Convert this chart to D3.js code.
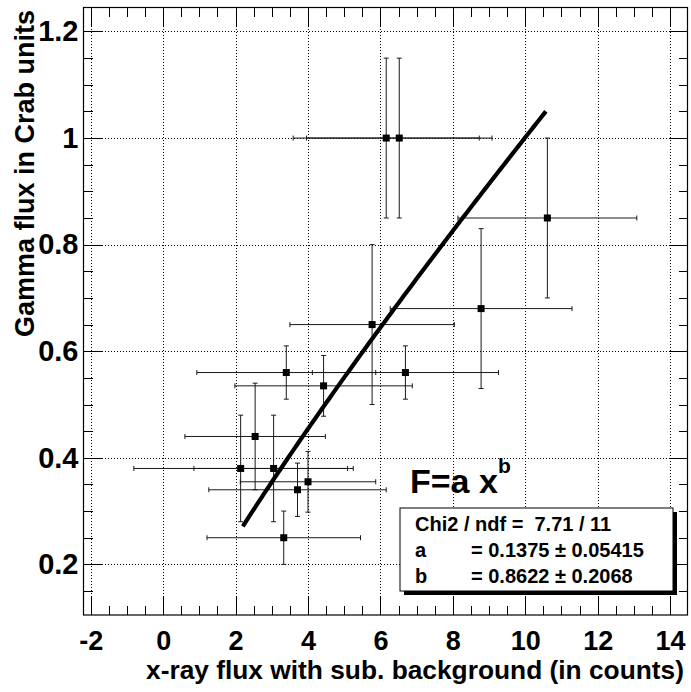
<!DOCTYPE html>
<html>
<head>
<meta charset="utf-8">
<script src="https://cdn.jsdelivr.net/npm/d3@7"></script>
<style>
  html, body { margin: 0; padding: 0; background: #fff; }
  svg { display: block; }
  text { font-family: "Liberation Sans", Arial, Helvetica, sans-serif; font-weight: bold; fill: #000; }
</style>
</head>
<body>
<svg id="chart" width="691" height="692"></svg>
<script>
// Measured points: x-ray flux (counts, background subtracted) vs gamma flux (Crab units)
const xFlux    = [6.16, 6.52, 10.61, 8.78, 5.77, 3.40, 6.69, 4.43, 2.54, 2.14, 3.05, 4.00, 3.71, 3.33];
const xFluxErr = [2.57, 2.56, 2.47, 2.51, 2.27, 2.47, 2.57, 2.45, 1.94, 2.95, 2.20, 1.87, 2.45, 2.12];
const gFlux    = [1.00, 1.00, 0.85, 0.68, 0.65, 0.56, 0.56, 0.535, 0.44, 0.38, 0.38, 0.355, 0.34, 0.25];
const gFluxErr = [0.15, 0.15, 0.15, 0.15, 0.15, 0.05, 0.05, 0.057, 0.10, 0.10, 0.10, 0.057, 0.05, 0.05];

// Power-law fit F = a x^b
const fitA = 0.1375, fitAErr = 0.05415;
const fitB = 0.8622, fitBErr = 0.2068;
const chi2 = 7.71, ndf = 11;
const fitRange = [2.2, 10.57];

// Axis ranges and ticks
const xDomain = [-2.2, 14.48];
const yDomain = [0.105, 1.245];
const xMajor = [-2, 0, 2, 4, 6, 8, 10, 12, 14];
const yMajor = [0.2, 0.4, 0.6, 0.8, 1.0, 1.2];
const xMinor = d3.range(-2, 14.49, 0.5);
const yMinor = d3.range(0.15, 1.246, 0.05);

const xTitle = "x-ray flux with sub. background (in counts)";
const yTitle = "Gamma flux in Crab units";

const svg = d3.select("#chart");
const frame = { left: 83.5, right: 687.5, top: 7.5, bottom: 615 };

const x = d3.scaleLinear().domain(xDomain).range([frame.left, frame.right]);
const y = d3.scaleLinear().domain(yDomain).range([frame.bottom, frame.top]);

// dotted grid at major ticks
const grid = svg.append("g").attr("stroke", "#000").attr("stroke-width", 1)
  .attr("stroke-dasharray", "1,2").attr("shape-rendering", "crispEdges");
grid.selectAll("line.gx").data(xMajor).join("line")
  .attr("x1", d => Math.round(x(d)) + 0.5).attr("x2", d => Math.round(x(d)) + 0.5)
  .attr("y1", frame.top).attr("y2", frame.bottom);
grid.selectAll("line.gy").data(yMajor).join("line")
  .attr("y1", d => Math.round(y(d)) + 0.5).attr("y2", d => Math.round(y(d)) + 0.5)
  .attr("x1", frame.left).attr("x2", frame.right);

// axes: major and minor ticks drawn inward on all four sides
const majorLen = 18, minorLen = 9;
function styleAxis(g) {
  g.select(".domain").remove();
  g.selectAll("line").attr("stroke", "#000").attr("shape-rendering", "crispEdges");
}
// plain ASCII hyphen for negative numbers
const fmtX = d => String(d);
const fmtY = d => String(+d.toFixed(2));

svg.append("g").attr("transform", `translate(0,${frame.bottom})`)
  .call(d3.axisBottom(x).tickValues(xMinor).tickSize(-minorLen).tickFormat("")).call(styleAxis);
svg.append("g").attr("transform", `translate(0,${frame.bottom})`)
  .call(d3.axisBottom(x).tickValues(xMajor).tickSize(-majorLen).tickPadding(16).tickFormat(fmtX))
  .call(styleAxis)
  .call(g => g.selectAll("text").attr("font-size", 27).attr("font-family", null));
svg.append("g").attr("transform", `translate(0,${frame.top})`)
  .call(d3.axisTop(x).tickValues(xMinor).tickSize(-minorLen).tickFormat("")).call(styleAxis);
svg.append("g").attr("transform", `translate(0,${frame.top})`)
  .call(d3.axisTop(x).tickValues(xMajor).tickSize(-majorLen).tickFormat("")).call(styleAxis);

svg.append("g").attr("transform", `translate(${frame.left},0)`)
  .call(d3.axisLeft(y).tickValues(yMinor).tickSize(-minorLen).tickFormat("")).call(styleAxis);
svg.append("g").attr("transform", `translate(${frame.left},0)`)
  .call(d3.axisLeft(y).tickValues(yMajor).tickSize(-majorLen).tickPadding(5).tickFormat(fmtY))
  .call(styleAxis)
  .call(g => g.selectAll("text").attr("font-size", 29).attr("font-family", null));
svg.append("g").attr("transform", `translate(${frame.right},0)`)
  .call(d3.axisRight(y).tickValues(yMinor).tickSize(-minorLen).tickFormat("")).call(styleAxis);
svg.append("g").attr("transform", `translate(${frame.right},0)`)
  .call(d3.axisRight(y).tickValues(yMajor).tickSize(-majorLen).tickFormat("")).call(styleAxis);

// frame
svg.append("rect")
  .attr("x", frame.left).attr("y", frame.top)
  .attr("width", frame.right - frame.left).attr("height", frame.bottom - frame.top)
  .attr("fill", "none").attr("stroke", "#000").attr("stroke-width", 1.2);

// axis titles
svg.append("text")
  .attr("x", 684).attr("y", 679)
  .attr("text-anchor", "end").attr("font-size", 26)
  .attr("textLength", 538).attr("lengthAdjust", "spacingAndGlyphs")
  .text(xTitle);
svg.append("text")
  .attr("transform", "translate(34,10) rotate(-90)")
  .attr("text-anchor", "end").attr("font-size", 27)
  .text(yTitle);

// error bars
const pts = xFlux.map((v, i) => ({ x: v, ex: xFluxErr[i], y: gFlux[i], ey: gFluxErr[i] }));
const cap = 2.5;
const eb = svg.append("g").attr("stroke", "#1a1a1a").attr("stroke-width", 1).attr("fill", "none");
pts.forEach(p => {
  const px = x(p.x), py = y(p.y);
  const x0 = x(p.x - p.ex), x1 = x(p.x + p.ex);
  const y0 = y(p.y - p.ey), y1 = y(p.y + p.ey);
  eb.append("line").attr("x1", x0).attr("x2", x1).attr("y1", py).attr("y2", py);
  eb.append("line").attr("x1", px).attr("x2", px).attr("y1", y0).attr("y2", y1);
  eb.append("line").attr("x1", x0).attr("x2", x0).attr("y1", py - cap).attr("y2", py + cap);
  eb.append("line").attr("x1", x1).attr("x2", x1).attr("y1", py - cap).attr("y2", py + cap);
  eb.append("line").attr("x1", px - cap).attr("x2", px + cap).attr("y1", y0).attr("y2", y0);
  eb.append("line").attr("x1", px - cap).attr("x2", px + cap).attr("y1", y1).attr("y2", y1);
});

// markers
const ms = 7;
svg.append("g").selectAll("rect").data(pts).join("rect")
  .attr("x", d => x(d.x) - ms / 2).attr("y", d => y(d.y) - ms / 2)
  .attr("width", ms).attr("height", ms).attr("fill", "#000");

// fitted curve
const fitPts = d3.range(0, 101).map(i => {
  const xv = fitRange[0] + (fitRange[1] - fitRange[0]) * i / 100;
  return [xv, fitA * Math.pow(xv, fitB)];
});
svg.append("path")
  .datum(fitPts)
  .attr("d", d3.line().x(d => x(d[0])).y(d => y(d[1])))
  .attr("fill", "none").attr("stroke", "#000").attr("stroke-width", 4.2);

// formula label
svg.append("text").attr("x", 410).attr("y", 493).attr("font-size", 34).text("F=a x");
svg.append("text").attr("x", 498).attr("y", 473).attr("font-size", 21).text("b");

// fit statistics box
const box = { x: 400, y: 508, w: 273, h: 83 };
svg.append("rect").attr("x", box.x + 4).attr("y", box.y + 4).attr("width", box.w).attr("height", box.h).attr("fill", "#000");
svg.append("rect").attr("x", box.x).attr("y", box.y).attr("width", box.w).attr("height", box.h)
  .attr("fill", "#fff").attr("stroke", "#000").attr("stroke-width", 1);
const st = svg.append("g").attr("font-size", 20);
st.append("text").attr("x", 415).attr("y", 531).attr("xml:space", "preserve")
  .text(`Chi2 / ndf =  ${chi2} / ${ndf}`);
st.append("text").attr("x", 415).attr("y", 557).text("a");
st.append("text").attr("x", 471).attr("y", 557).text(`= ${fitA} \u00b1 ${fitAErr}`);
st.append("text").attr("x", 415).attr("y", 583).text("b");
st.append("text").attr("x", 471).attr("y", 583).text(`= ${fitB} \u00b1 ${fitBErr}`);
</script>
</body>
</html>
